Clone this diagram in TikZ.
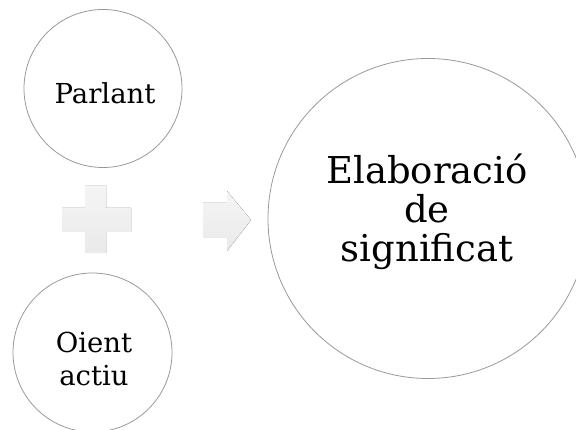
\documentclass[tikz,border=0pt]{standalone}
\usepackage{fontspec}
\setmainfont{DejaVu Serif}
\begin{document}
\begin{tikzpicture}[x=1pt,y=-1pt,
  ring/.style={circle,draw=gray!80,line width=0.8pt,inner sep=0pt},
  smalltxt/.style={font=\fontsize{27.5}{33}\selectfont,align=center,inner sep=0pt},
  bigtxt/.style={font=\fontsize{37}{39}\selectfont,align=center,inner sep=0pt},
  shapefill/.style={top color=gray!8,bottom color=gray!17,draw=none}]
\useasboundingbox (0,0) rectangle (576,430);
\begin{scope}
\clip (0,0) rectangle (576,430);
\node[ring,minimum size=158pt] (parlant) at (103,88.5) {};
\node[ring,minimum size=159pt] (oient) at (92.5,352.5) {};
\node[ring,minimum size=320pt] (elab) at (428,218.5) {};
\end{scope}
\node[smalltxt] (tparlant) at (105,93) {Parlant};
\node[smalltxt] (toient) at (94,359) {Oient\\actiu};
\node[bigtxt] (telab) at (427,212) {Elaboració\\de\\significat};
% plus sign
\fill[shapefill] (85,186) -- (106,186) -- (106,208) -- (131,208) -- (131,232)
  -- (106,232) -- (106,253) -- (85,253) -- (85,232) -- (62,232) -- (62,208)
  -- (85,208) -- cycle;
% arrow
\fill[shapefill] (203,203) -- (227,203) -- (227,191) -- (251,220) -- (227,251)
  -- (227,238) -- (203,238) -- cycle;
\end{tikzpicture}
\end{document}
